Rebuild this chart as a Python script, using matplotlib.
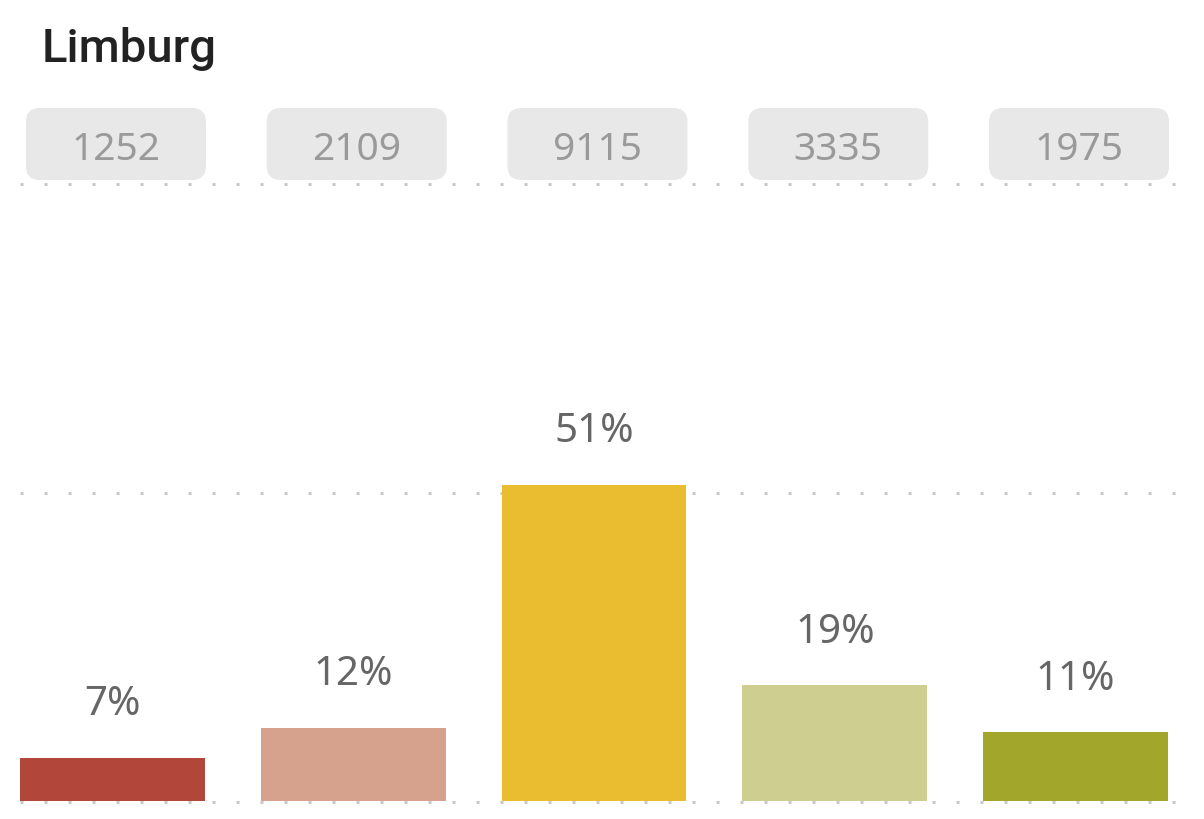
import matplotlib
matplotlib.use("Agg")
import matplotlib.pyplot as plt
from matplotlib.patches import FancyBboxPatch
from matplotlib.lines import Line2D
from matplotlib.transforms import Affine2D

title = "Limburg"
counts = [1252, 2109, 9115, 3335, 1975]
pct_labels = ["7%", "12%", "51%", "19%", "11%"]
colors = ["#B3463A", "#D7A28D", "#EABD30", "#CFCE91", "#A2A62A"]

total = sum(counts)
shares = [c / total * 100 for c in counts]

W, H, DPI = 1204, 819, 100
fig = plt.figure(figsize=(W / DPI, H / DPI), dpi=DPI)
fig.patch.set_facecolor("white")

ax_l, ax_r, ax_b, ax_t = 20, 1168, 801, 184  # pixel coordinates (y from top)
ax = fig.add_axes([ax_l / W, (H - ax_b) / H, (ax_r - ax_l) / W, (ax_b - ax_t) / H])
ax.set_xlim(-0.384, len(counts) - 1 + 0.384)
ax.set_ylim(0, 100)
ax.axis("off")

# pixel transform (y from bottom)
pix = Affine2D().scale(1 / W, 1 / H) + fig.transFigure

for yv in (0, 50, 100):
    ypix = ax.transData.transform((0, yv))[1]
    if yv == 0:
        ypix -= 1
    ln = Line2D([20, 1176], [ypix, ypix], transform=pix, color="#C8C8C8", lw=2.16,
                linestyle=(0, (1, 7)), dash_capstyle="butt", solid_capstyle="butt",
                zorder=0)
    fig.add_artist(ln)

xs = list(range(len(counts)))
ax.bar(xs, shares, width=0.768, color=colors, zorder=2)

for x, s, lab in zip(xs, shares, pct_labels):
    ax.annotate(lab, (x, s), xytext=(0, 38), textcoords="offset points",
                ha="center", va="center", fontsize=29, color="#666666",
                family="Noto Sans")

for x, c in zip(xs, counts):
    cx = ax.transData.transform((x, 0))[0] + 3.5
    bw, bh = 180, 72
    y0 = H - 180
    box = FancyBboxPatch((cx - bw / 2 + 14, y0 + 14), bw - 28, bh - 28,
                         boxstyle="round,pad=14", transform=pix,
                         facecolor="#E8E8E8", edgecolor="none")
    fig.add_artist(box)
    fig.text(cx / W, (H - 150) / H, str(c), ha="center", va="center",
             fontsize=28, color="#9A9A9A", family="Noto Sans")

fig.text(42 / W, (H - 62) / H, title, ha="left", va="baseline", fontsize=34,
         color="#222222", family="Roboto", fontweight="medium")

fig.savefig("out.png", dpi=DPI, facecolor="white")
